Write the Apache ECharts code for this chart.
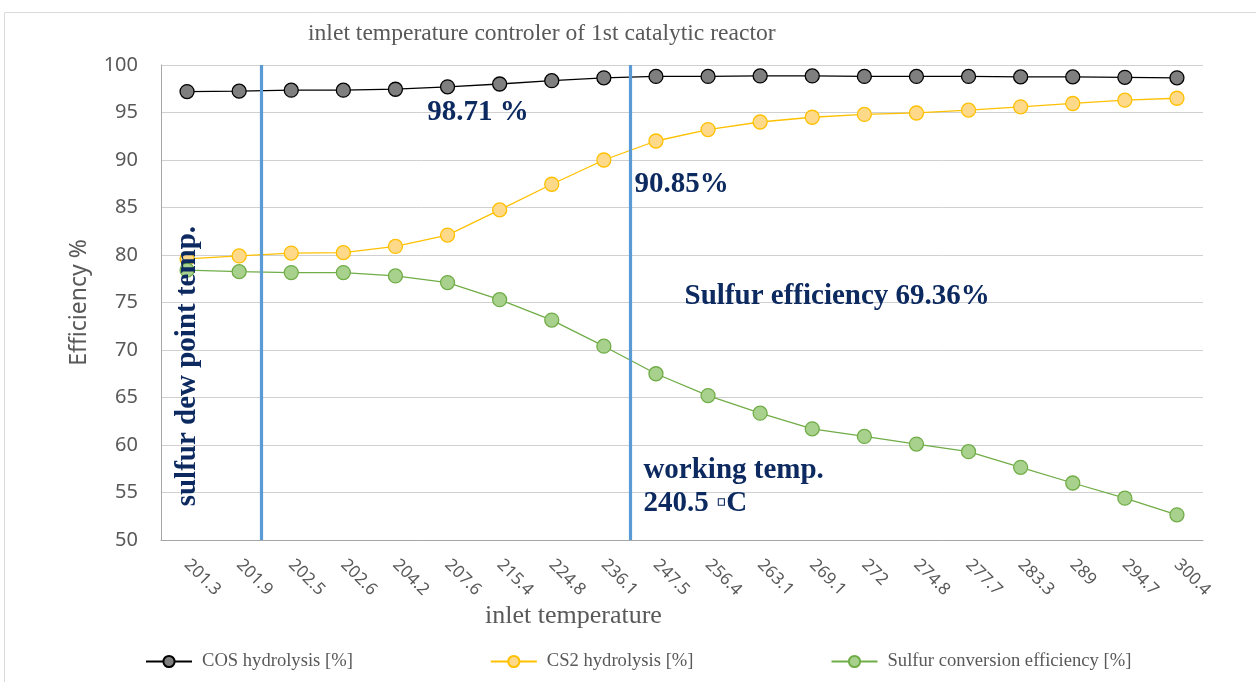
<!DOCTYPE html>
<html>
<head>
<meta charset="utf-8">
<script src="https://cdn.jsdelivr.net/npm/echarts@6/dist/echarts.min.js"></script>
<style>
  html, body { margin: 0; padding: 0; background: #fff; }
  #chart { width: 1256px; height: 682px; }
</style>
</head>
<body>
<div id="chart"></div>
<script>
// inlet temperatures (x categories)
var temps = ['201.3', '201.9', '202.5', '202.6', '204.2', '207.6', '215.4', '224.8', '236.1', '247.5',
  '256.4', '263.1', '269.1', '272', '274.8', '277.7', '283.3', '289', '294.7', '300.4']

var cosHydrolysis = [97.2, 97.25, 97.35, 97.35, 97.45, 97.7, 98.0, 98.35, 98.65, 98.8,
  98.8, 98.85, 98.85, 98.8, 98.8, 98.8, 98.75, 98.75, 98.7, 98.65]
var cs2Hydrolysis = [79.6, 79.9, 80.2, 80.25, 80.9, 82.1, 84.75, 87.45, 90.0, 92.0,
  93.2, 94.0, 94.5, 94.8, 94.95, 95.25, 95.6, 95.95, 96.3, 96.5]
var sulfurConversion = [78.4, 78.25, 78.15, 78.15, 77.8, 77.1, 75.3, 73.15, 70.4, 67.5,
  65.2, 63.35, 61.7, 60.9, 60.1, 59.3, 57.65, 56.0, 54.4, 52.65]

var seriesNames = ['COS hydrolysis [%]', 'CS2 hydrolysis [%]', 'Sulfur conversion efficiency [%]']

// vertical reference lines, in category-index units (0 = left edge of plot)
var markerLines = [1.93, 9.0]

// text annotations: [x in category-index units, y value, text, rotate]
var notes = [
  [5.1, 95.05, '98.71 %', 0],
  [9.08, 87.45, '90.85%', 0],
  [10.04, 75.65, 'Sulfur efficiency 69.36%', 0],
  [9.25, 55.6, 'working temp.\n240.5 \u25ABC', 0],
  [0.5, 68.3, 'sulfur dew point temp.', 90]
]

var gray = '#595959'
var serif = '"Liberation Serif", "Times New Roman", serif'
var sans = '"Noto Sans", "Open Sans", sans-serif'

function lineSeries(name, data, line, fill) {
  return {
    name: name,
    type: 'line',
    data: data,
    symbol: 'circle',
    symbolSize: 14,
    lineStyle: { color: line, width: 1.3 },
    itemStyle: { color: fill, borderColor: line, borderWidth: 1.3 },
    z: 3
  }
}

var chart = echarts.init(document.getElementById('chart'))
chart.setOption({
  animation: false,
  title: [{
    text: 'inlet temperature controler of 1st catalytic reactor',
    left: 303,
    top: 17,
    textStyle: { fontFamily: serif, fontSize: 23.6, fontWeight: 'normal', color: gray }
  }, {
    text: 'inlet temperature',
    left: 480,
    top: 598,
    textStyle: { fontFamily: serif, fontSize: 26, fontWeight: 'normal', color: gray }
  }],
  graphic: [{
    type: 'rect',
    shape: { x: 4.5, y: 12.5, width: 1270, height: 700 },
    style: { fill: 'none', stroke: '#d9d9d9', lineWidth: 1 },
    silent: true
  }],
  legend: {
    data: seriesNames,
    left: 140,
    top: 647,
    itemGap: 137,
    itemWidth: 46,
    itemHeight: 14,
    textStyle: { fontFamily: serif, fontSize: 18.6, color: gray, padding: [0, 0, 0, 5] }
  },
  grid: { left: 161, right: 53, top: 65, bottom: 142 },
  xAxis: [{
    type: 'category',
    data: temps,
    boundaryGap: true,
    axisLine: { lineStyle: { color: '#a6a6a6', width: 1 } },
    axisTick: { show: false },
    axisLabel: { rotate: -45, margin: 22, fontFamily: sans, fontSize: 17, color: gray, interval: 0 },
    splitLine: { show: false }
  }, {
    type: 'value',
    min: 0,
    max: temps.length,
    show: false,
    splitLine: { show: false }
  }],
  yAxis: {
    type: 'value',
    min: 50,
    max: 100,
    interval: 5,
    name: 'Efficiency %',
    nameLocation: 'middle',
    nameGap: 70,
    nameTextStyle: { fontFamily: sans, fontSize: 23, color: gray },
    axisLine: { show: true, lineStyle: { color: '#a6a6a6', width: 1 } },
    axisTick: { show: false },
    axisLabel: { margin: 23, fontFamily: sans, fontSize: 20, color: gray },
    splitLine: { lineStyle: { color: '#d0d0d0', width: 1 } }
  },
  series: [
    lineSeries(seriesNames[0], cosHydrolysis, '#000000', '#7f7f7f'),
    lineSeries(seriesNames[1], cs2Hydrolysis, '#ffc000', '#ffd98a'),
    lineSeries(seriesNames[2], sulfurConversion, '#70ad47', '#a9d18e'),
    {
      name: 'markers',
      type: 'line',
      xAxisIndex: 1,
      data: [],
      silent: true,
      markLine: {
        symbol: 'none',
        label: { show: false },
        lineStyle: { color: '#5b9bd5', width: 3.2, type: 'solid' },
        data: markerLines.map(function (v) { return { xAxis: v } })
      },
      markPoint: {
        symbol: 'rect',
        symbolSize: 1,
        itemStyle: { color: 'rgba(0,0,0,0)' },
        data: notes.map(function (n) {
          return {
            coord: [n[0], n[1]],
            label: {
              show: true,
              formatter: n[2],
              position: n[3] ? 'inside' : 'right',
              distance: 0,
              rotate: n[3],
              align: n[3] ? 'center' : 'left',
              verticalAlign: 'middle',
              fontFamily: serif,
              fontWeight: 'bold',
              fontSize: 29,
              lineHeight: 33,
              color: '#0d2a60'
            }
          }
        })
      }
    }
  ]
})
</script>
</body>
</html>
